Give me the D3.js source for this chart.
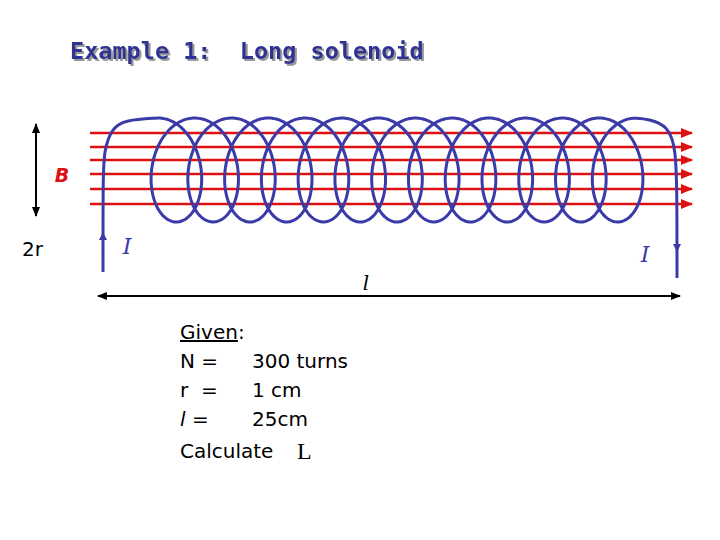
<!DOCTYPE html><html><head><script src="https://cdn.jsdelivr.net/npm/d3@7"></script>
<style>body{margin:0;background:#fff}</style></head><body><svg id="s" width="720" height="540"></svg><script>
const fieldLines=[133,147,160,174,189,204];
const turns=d3.range(14);
const givenLines=[["N =","300 turns"],["r  =","1 cm"],["l =","25cm"]];
const svg=d3.select("#s");
const blue="#3a3aa8", red="#dd1111";
const defs=svg.append("defs");
function mk(id,c){defs.append("marker").attr("id",id).attr("viewBox","0 0 10 10").attr("refX",9).attr("refY",5).attr("markerWidth",5).attr("markerHeight",5).attr("orient","auto-start-reverse").append("path").attr("d","M0,1L10,5L0,9z").attr("fill",c);}
mk("ar",red);mk("ab","#000");
defs.append("filter").attr("id","sh").append("feDropShadow").attr("dx",2).attr("dy",2).attr("stdDeviation",0.6).attr("flood-color","#999");
const x=d3.scaleLinear().domain([0,13]).range([158,636]);
fieldLines.forEach(y=>svg.append("line").attr("x1",90).attr("x2",692).attr("y1",y).attr("y2",y).attr("stroke",red).attr("stroke-width",2.5).attr("marker-end","url(#ar)"));
const pts=[];
const a=34,R=52,yc=170,p=(x(13)-x(0))/13;
const t0=Math.PI/2, t1=Math.PI/2+2*Math.PI*13;
for(let t=t0;t<=t1;t+=0.05){const u=(t-t0)/(2*Math.PI);pts.push([x(0)+u*p-a*Math.cos(t),yc-R*Math.sin(t)]);}
const line=d3.line().curve(d3.curveBasis);
const last=pts[pts.length-1];
svg.append("path").attr("d",line([[103,272],[103,180],[104,150],[112,128],[125,120],[pts[0][0],pts[0][1]]].concat(pts).concat([[last[0]+14,119],[668,126],[676,148],[677,200],[677,278]]))).attr("fill","none").attr("stroke",blue).attr("stroke-width",3);
svg.append("path").attr("d","M99,240L103,232L107,240").attr("fill",blue);
svg.append("path").attr("d","M673,244L677,252L681,244").attr("fill",blue);
svg.append("line").attr("x1",36).attr("x2",36).attr("y1",124).attr("y2",216).attr("stroke","#000").attr("stroke-width",2).attr("marker-start","url(#ab)").attr("marker-end","url(#ab)");
svg.append("line").attr("x1",98).attr("x2",680).attr("y1",296).attr("y2",296).attr("stroke","#000").attr("stroke-width",2).attr("marker-start","url(#ab)").attr("marker-end","url(#ab)");
const T=(x,y,s,o)=>{const e=svg.append("text").attr("x",x).attr("y",y).text(s).attr("font-family",o.f||"DejaVu Sans").attr("font-size",o.s||20).attr("fill",o.c||"#000").attr("xml:space","preserve");if(o.w)e.attr("font-weight",o.w);if(o.i)e.attr("font-style","italic");if(o.a)e.attr("text-anchor",o.a);return e;};
T(70,59,"Example 1:  Long solenoid",{s:23.5,w:"bold",c:"#2f3192",f:"DejaVu Sans Mono"}).attr("filter","url(#sh)").style("white-space","pre");
T(62,182,"B",{s:19,w:"bold",i:1,c:red,a:"middle"});
T(22,256,"2r",{s:20});
T(127,254,"I",{s:22,i:1,c:blue,f:"DejaVu Serif",a:"middle"});
T(645,262,"I",{s:22,i:1,c:blue,f:"DejaVu Serif",a:"middle"});
T(366,290,"l",{s:20,i:1,f:"DejaVu Serif",a:"middle"});
T(180,339,"Given",{s:20}).attr("text-decoration","underline");
T(238,339,":",{s:20});
givenLines.forEach((d,i)=>{const y=368+i*29;T(180,y,d[0],{s:20,i:d[0][0]=="l"?1:0});T(252,y,d[1],{s:20});});
T(180,458,"Calculate",{s:20});
T(297,459,"L",{s:24,f:"Liberation Serif"});
</script></body></html>
